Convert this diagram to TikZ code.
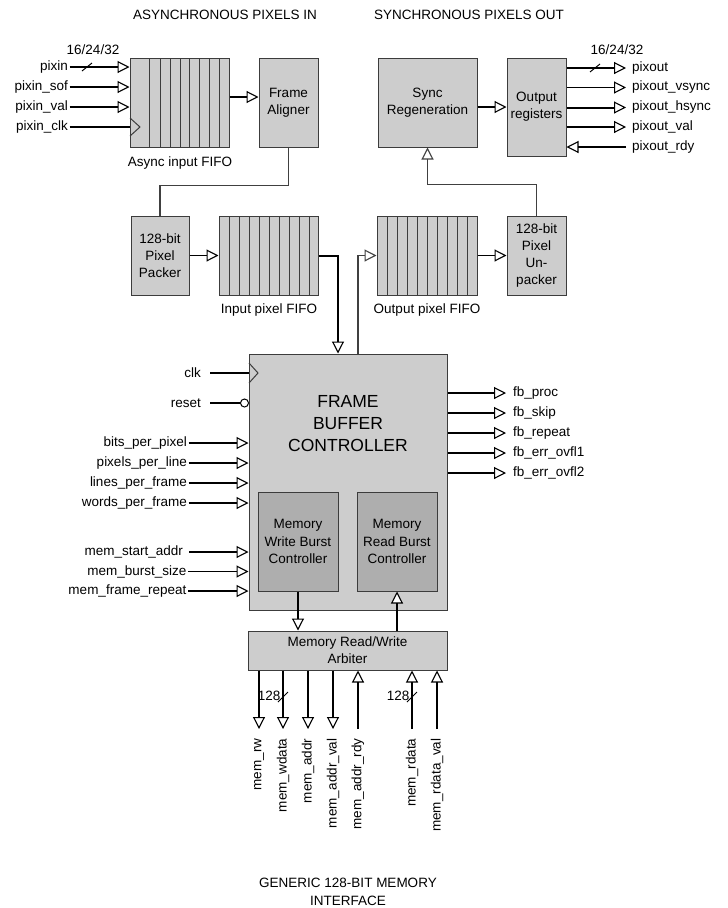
\documentclass[tikz,border=0pt]{standalone}
\usepackage{fontspec}
\setmainfont{Liberation Sans}
\usetikzlibrary{arrows.meta,calc}
\definecolor{boxfill}{RGB}{205,205,205}
\definecolor{darkfill}{RGB}{174,174,174}
\definecolor{edge}{RGB}{60,60,60}
\begin{document}
\begin{tikzpicture}[x=1pt,y=-1pt,
  >={Triangle[open,length=12pt,width=12pt,line width=1.1pt,fill=white]},
  lab/.style={font=\fontsize{13.5}{16}\selectfont, inner sep=1.5pt},
  titletext/.style={font=\fontsize{13.5}{18}\selectfont, align=center, inner sep=0pt},
  box/.style={draw=edge, fill=boxfill, line width=1pt, align=center, inner sep=0pt, font=\fontsize{13.5}{17}\selectfont},
  dbox/.style={box, fill=darkfill, font=\fontsize{13.5}{17.5}\selectfont},
  sig/.style={line width=1.2pt, ->},
  plain/.style={line width=1.2pt},
  thk/.style={line width=2pt},
  wire/.style={line width=1.2pt, draw=black!75},
  slash/.style={line width=1pt},
  cell/.style={draw=edge, line width=1pt}
]
\useasboundingbox (0,0) rectangle (728,908);

% titles
\node[titletext] (tin) at (225,15) {ASYNCHRONOUS PIXELS IN};
\node[titletext] (tout) at (469,15) {SYNCHRONOUS PIXELS OUT};
\node[titletext] (tmem) at (348,892) {GENERIC 128-BIT MEMORY\\INTERFACE};

% ---------- top row ----------
\node[box, minimum width=99pt, minimum height=89pt] (afifo) at (179.5,102.5) {};
\foreach \x in {149,160,170,180,189,199,209,219} \draw[cell] (\x,58) -- (\x,147);
\draw[cell] (130,118) -- (140,127) -- (130,136);
\node[lab] (afifocap) at (180,163) {Async input FIFO};

\node[box, minimum width=59pt, minimum height=89pt] (align) at (288.5,102.5) {Frame\\Aligner};
\node[box, minimum width=99pt, minimum height=89pt] (sync) at (427.5,102.5) {Sync\\Regeneration};
\node[box, minimum width=59pt, minimum height=98pt] (oreg) at (536.5,107) {Output\\registers};

% async inputs
\node[lab, anchor=east] (pixin) at (69.5,67) {pixin};
\node[lab, anchor=east] (pixinsof) at (69.5,87) {pixin\_sof};
\node[lab, anchor=east] (pixinval) at (69.5,107) {pixin\_val};
\node[lab, anchor=east] (pixinclk) at (69.5,127) {pixin\_clk};
\node[lab] (win) at (93,50) {16/24/32};
\draw[sig] (pixin.east) -- (pixin.east -| afifo.west);
\draw[slash] (82,71) -- (92,63);
\draw[sig] (pixinsof.east) -- (pixinsof.east -| afifo.west);
\draw[sig, thk] (pixinval.east) -- (pixinval.east -| afifo.west);
\draw[plain] (pixinclk.east) -- (pixinclk.east -| afifo.west);

\draw[sig, thk] ([yshift=5.5pt]afifo.east) -- ([yshift=5.5pt]align.west);
\draw[sig, thk] ([yshift=-4.5pt]sync.east) -- ([yshift=0pt]oreg.west);

% sync outputs
\node[lab, anchor=west] (pixout) at (630.5,68) {pixout};
\node[lab, anchor=west] (pixoutv) at (630.5,87.5) {pixout\_vsync};
\node[lab, anchor=west] (pixouth) at (630.5,107.5) {pixout\_hsync};
\node[lab, anchor=west] (pixoutval) at (630.5,127) {pixout\_val};
\node[lab, anchor=west] (pixoutrdy) at (630.5,147) {pixout\_rdy};
\node[lab] (wout) at (617,50) {16/24/32};
\draw[sig, shorten >=4.5pt] (oreg.east |- pixout.west) -- (pixout.west);
\draw[slash] (590,72) -- (600,64);
\draw[sig, shorten >=4.5pt] (oreg.east |- pixoutv.west) -- (pixoutv.west);
\draw[sig, thk, shorten >=4.5pt] (oreg.east |- pixouth.west) -- (pixouth.west);
\draw[sig, shorten >=4.5pt] (oreg.east |- pixoutval.west) -- (pixoutval.west);
\draw[sig, shorten <=4.5pt] (pixoutrdy.west) -- (pixoutrdy.west -| oreg.east);

% ---------- middle row ----------
\node[box, minimum width=58pt, minimum height=79pt] (packer) at (160,255.5) {128-bit\\Pixel\\Packer};
\node[box, minimum width=99pt, minimum height=79pt] (ififo) at (268.5,255.5) {};
\foreach \x in {229,239,249,259,269,279,289,299,309} \draw[cell] (\x,216) -- (\x,295);
\node[lab] (ififocap) at (269,310) {Input pixel FIFO};

\node[box, minimum width=100pt, minimum height=79pt] (ofifo) at (427,255.5) {};
\foreach \x in {387,397,407,417,427,437,447,457,467} \draw[cell] (\x,216) -- (\x,295);
\node[lab] (ofifocap) at (427,310) {Output pixel FIFO};
\node[box, minimum width=59pt, minimum height=79pt] (unpk) at (536.5,255.5) {128-bit\\Pixel\\Un-\\packer};

\draw[wire] (align.south) -- ++(0,38) -| (packer.north);
\draw[sig] (packer.east) -- (ififo.west);
\draw[sig] (ofifo.east) -- (unpk.west);
\draw[wire, ->] (unpk.north) -- ++(0,-31) -| (sync.south);

% ---------- controller ----------
\node[box, minimum width=198pt, minimum height=256pt] (fbc) at (348,482) {};
\node[align=center, inner sep=0pt, font=\fontsize{17.5}{22}\selectfont] (fbctitle) at (348,424) {FRAME\\BUFFER\\CONTROLLER};
\node[dbox, minimum width=80pt, minimum height=99pt] (wbc) at (298,541.5) {Memory\\Write Burst\\Controller};
\node[dbox, minimum width=80pt, minimum height=99pt] (rbc) at (397,541.5) {Memory\\Read Burst\\Controller};
\draw[cell] (249,363) -- (258,373) -- (249,383);

\draw[sig, thk] (ififo.east) -| ([xshift=-10pt]fbc.north);
\draw[wire, ->] ([xshift=10pt]fbc.north) |- (ofifo.west);

% controller inputs
\node[lab, anchor=east] (clk) at (202.5,373) {clk};
\node[lab, anchor=east] (reset) at (202.5,403) {reset};
\draw[plain] ([xshift=7.5pt]clk.east) -- (clk.east -| fbc.west);
\draw[plain] ([xshift=7.5pt]reset.east) -- (240.5,403);
\draw[line width=1pt, fill=white] (244.5,403) circle (4);

\node[lab, anchor=east] (bpp) at (188.5,443) {bits\_per\_pixel};
\node[lab, anchor=east] (ppl) at (188.5,463) {pixels\_per\_line};
\node[lab, anchor=east] (lpf) at (188.5,483) {lines\_per\_frame};
\node[lab, anchor=east] (wpf) at (188.5,503) {words\_per\_frame};
\node[lab, anchor=east] (msa) at (184.5,552) {mem\_start\_addr};
\node[lab, anchor=east] (mbs) at (188,571.5) {mem\_burst\_size};
\node[lab, anchor=east] (mfr) at (188,591) {mem\_frame\_repeat};
\draw[sig, thk] (bpp.east) -- (bpp.east -| fbc.west);
\draw[sig, line width=1.6pt] (ppl.east) -- (ppl.east -| fbc.west);
\draw[sig] (lpf.east) -- (lpf.east -| fbc.west);
\draw[sig] (wpf.east) -- (wpf.east -| fbc.west);
\draw[sig, thk] ([xshift=4.5pt]msa.east) -- (msa.east -| fbc.west);
\draw[sig, line width=1.6pt] (mbs.east) -- (mbs.east -| fbc.west);
\draw[sig] (mfr.east) -- (mfr.east -| fbc.west);

% controller outputs
\node[lab, anchor=west] (fbproc) at (511.5,393) {fb\_proc};
\node[lab, anchor=west] (fbskip) at (511.5,413) {fb\_skip};
\node[lab, anchor=west] (fbrep) at (511.5,433) {fb\_repeat};
\node[lab, anchor=west] (fbo1) at (511.5,453) {fb\_err\_ovfl1};
\node[lab, anchor=west] (fbo2) at (511.5,473) {fb\_err\_ovfl2};
\draw[sig, shorten >=5.5pt] (fbc.east |- fbproc.west) -- (fbproc.west);
\draw[sig, shorten >=5.5pt] (fbc.east |- fbskip.west) -- (fbskip.west);
\draw[sig, shorten >=5.5pt] (fbc.east |- fbrep.west) -- (fbrep.west);
\draw[sig, thk, shorten >=5.5pt] (fbc.east |- fbo1.west) -- (fbo1.west);
\draw[sig, shorten >=5.5pt] (fbc.east |- fbo2.west) -- (fbo2.west);

% ---------- arbiter ----------
\node[box, minimum width=199pt, minimum height=39pt] (arb) at (347.5,650.5) {Memory Read/Write\\Arbiter};
\draw[sig] (wbc.south) -- (wbc.south |- arb.north);
\draw[sig] (rbc.south |- arb.north) -- (rbc.south);

% memory signals
\node[lab, rotate=90, anchor=east] (mrw) at (259,737) {mem\_rw};
\node[lab, rotate=90, anchor=east] (mwd) at (283,737) {mem\_wdata};
\node[lab, rotate=90, anchor=east] (mad) at (308,737) {mem\_addr};
\node[lab, rotate=90, anchor=east] (mav) at (333,737) {mem\_addr\_val};
\node[lab, rotate=90, anchor=east] (mar) at (358,737) {mem\_addr\_rdy};
\node[lab, rotate=90, anchor=east] (mrd) at (412,737) {mem\_rdata};
\node[lab, rotate=90, anchor=east] (mrv) at (437,737) {mem\_rdata\_val};
\draw[sig, thk, shorten >=8pt] (mrw.east |- arb.south) -- (mrw.east);
\draw[sig, shorten >=8pt] (mwd.east |- arb.south) -- (mwd.east);
\draw[sig, shorten >=8pt] (mad.east |- arb.south) -- (mad.east);
\draw[sig, thk, shorten >=8pt] (mav.east |- arb.south) -- (mav.east);
\draw[sig, thk, shorten <=8pt] (mar.east) -- (mar.east |- arb.south);
\draw[sig, shorten <=8pt] (mrd.east) -- (mrd.east |- arb.south);
\draw[sig, thk, shorten <=8pt] (mrv.east) -- (mrv.east |- arb.south);
\node[lab, anchor=east] (w128a) at (282,696) {128};
\draw[slash] (278,702) -- (288,692);
\node[lab, anchor=east] (w128b) at (411,696) {128};
\draw[slash] (407,702) -- (417,692);
\end{tikzpicture}
\end{document}
